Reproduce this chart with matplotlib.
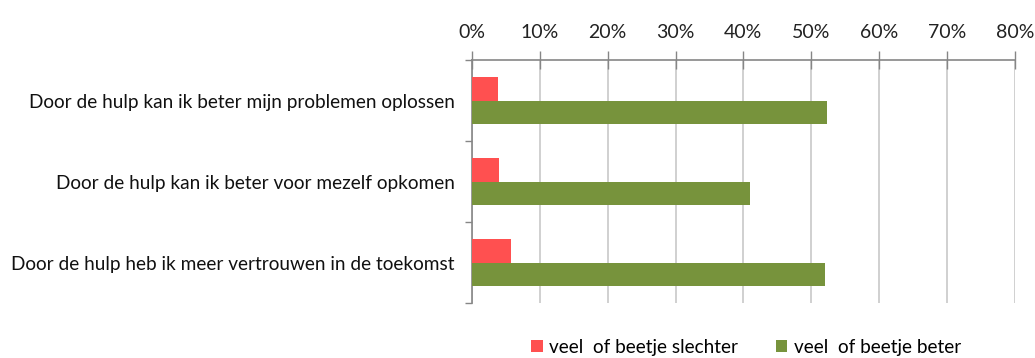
import matplotlib
matplotlib.use("Agg")
import matplotlib.pyplot as plt
import numpy as np

# Survey statements and shares of answers (fractions)
statements = [
    "Door de hulp kan ik beter mijn problemen oplossen",
    "Door de hulp kan ik beter voor mezelf opkomen",
    "Door de hulp heb ik meer vertrouwen in de toekomst",
]
slechter = [0.038, 0.040, 0.058]
beter = [0.523, 0.410, 0.520]
series_names = ["veel  of beetje slechter", "veel  of beetje beter"]
x_ticks = [0, 0.1, 0.2, 0.3, 0.4, 0.5, 0.6, 0.7, 0.8]

plt.rcParams['font.family'] = ['Lato', 'DejaVu Sans']

RED = "#FF5050"
GREEN = "#77933C"
GRID = "#C8C8C8"
SPINE = "#868686"

fig = plt.figure(figsize=(10.35, 3.58), dpi=100)
ax = fig.add_axes([0.456, 0.1536, 0.5245, 0.6788])

y = np.arange(len(statements))
h = 0.285
b1 = ax.barh(y - h / 2, slechter, height=h, color=RED, zorder=3, label=series_names[0])
b2 = ax.barh(y + h / 2, beter, height=h, color=GREEN, zorder=3, label=series_names[1])

ax.set_xlim(0, 0.8)
ax.set_ylim(len(statements) - 0.5, -0.5)

# percentage axis on top
ax.xaxis.tick_top()
ax.set_xticks(x_ticks)
ax.set_xticklabels([f"{int(round(t * 100))}%" for t in x_ticks], fontsize=14, color="#222222")
ax.tick_params(axis="x", direction="inout", length=13, width=1, color=SPINE, pad=7)
ax.grid(axis="x", color=GRID, linewidth=1.2, zorder=0)

ax.set_yticks(y)
ax.set_yticklabels(statements, fontsize=13.7, color="#111111")
ax.tick_params(axis="y", length=0, pad=12.5)
ax.set_yticks(np.arange(-0.5, len(statements)), minor=True)
ax.tick_params(axis="y", which="minor", length=5, width=1, color=SPINE)

for side in ["right", "bottom"]:
    ax.spines[side].set_visible(False)
for side in ["top", "left"]:
    ax.spines[side].set_color(SPINE)
    ax.spines[side].set_linewidth(1.2)

fig.legend(handles=[b1, b2], loc="center", bbox_to_anchor=(0.721, 0.03),
           ncol=2, frameon=False, fontsize=13.6, handlelength=0.6, handleheight=0.6,
           handletextpad=0.35, columnspacing=2.0)

fig.savefig("out.png", dpi=100)
